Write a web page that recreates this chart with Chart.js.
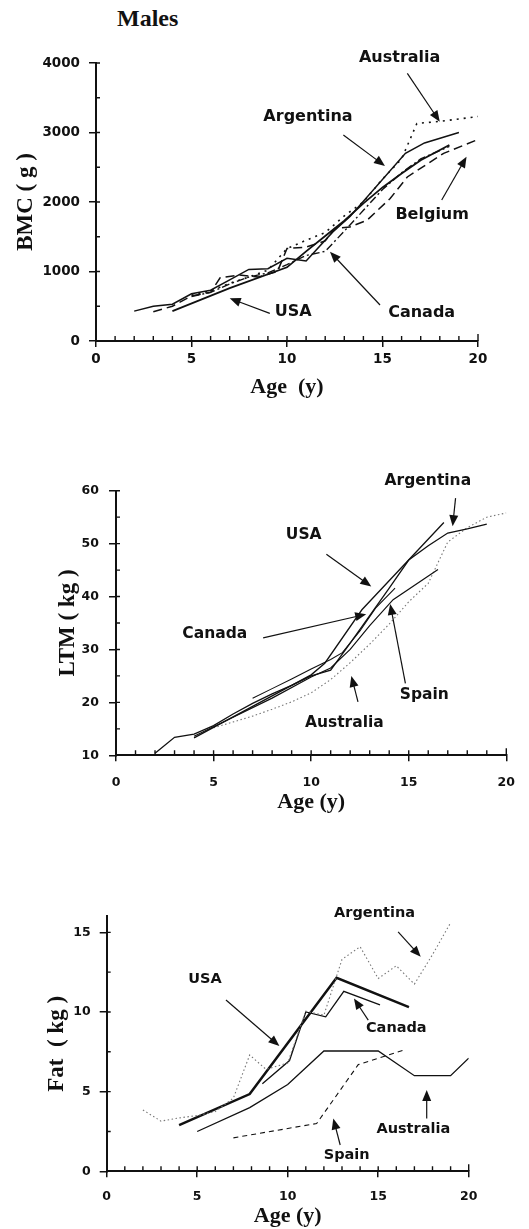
<!DOCTYPE html>
<html>
<head>
<meta charset="utf-8">
<script src="https://cdn.jsdelivr.net/npm/chart.js@4.4.0/dist/chart.umd.min.js"></script>
<style>
html, body { margin: 0; padding: 0; background: #fff; }
body { width: 529px; height: 1229px; position: relative; overflow: hidden; }
canvas { position: absolute; left: 0; }
#males { position: absolute; left: 117px; top: 5px; font: bold 24px "Liberation Serif", serif; color: #111; }
</style>
</head>
<body>
<div id="males">Males</div>
<canvas id="bmc" width="529" height="400" style="top:0"></canvas>
<canvas id="ltm" width="529" height="420" style="top:400px"></canvas>
<canvas id="fat" width="529" height="409" style="top:820px"></canvas>
<script>
// ---- BMC (g) by age ----
const bmcArgAge = [2, 3, 4, 5, 6, 7, 8, 9, 10, 11, 12.4, 13.3, 16.2, 17.2, 19];
const bmcArg    = [430, 500, 530, 680, 730, 880, 1030, 1040, 1190, 1150, 1570, 1790, 2700, 2850, 3000];
const bmcUsaAge = [4, 7, 10, 11, 12, 13, 14, 15, 16, 17, 18.5];
const bmcUsa    = [430, 760, 1060, 1290, 1510, 1730, 1980, 2210, 2410, 2600, 2820];
const bmcCanAge = [5, 6, 7, 8, 9, 10, 11, 12, 13, 14, 15, 16, 17, 18.5];
const bmcCan    = [640, 700, 820, 920, 980, 1100, 1230, 1290, 1580, 1880, 2180, 2420, 2620, 2800];
const bmcAusAge = [5, 6, 7, 8, 9, 10, 11, 12, 13, 14, 15, 16, 16.8, 18, 20];
const bmcAus    = [660, 720, 830, 920, 1020, 1330, 1450, 1560, 1800, 2000, 2330, 2620, 3130, 3160, 3230];
const bmcBelAge = [3, 4, 5, 6, 6.5, 7.5, 8.5, 9.5, 10, 11, 12, 12.5, 13.3, 14.2, 15.4, 16.3, 18.2, 20];
const bmcBel    = [420, 500, 650, 700, 910, 950, 920, 1000, 1330, 1350, 1440, 1620, 1640, 1740, 2050, 2360, 2700, 2900];

// ---- LTM (kg) by age ----
const ltmArgAge = [2, 3, 4, 5, 6, 7, 8, 9, 10, 11, 12, 13, 14, 15, 16, 17, 18, 19];
const ltmArg    = [10.4, 13.4, 14, 15.6, 17.8, 19.8, 21.6, 23.2, 25, 26.1, 31.2, 36.4, 41.6, 46.9, 49.6, 52, 52.8, 53.7];
const ltmUsaAge = [4, 10, 10.7, 12.6, 16.8];
const ltmUsa    = [13.3, 25.2, 27.4, 37.5, 54];
const ltmCanAge = [7, 8, 9, 10, 11, 11.6, 12.5, 13.3, 14.3];
const ltmCan    = [20.8, 22.6, 24.4, 26.3, 28.1, 29.4, 33.5, 37.8, 41.6];
const ltmSpaAge = [4, 6, 8, 10, 11, 12, 13, 14.2, 16.5];
const ltmSpa    = [13.6, 17.2, 20.8, 24.8, 26.5, 30, 34.5, 39.4, 45.1];
const ltmAusAge = [5, 6, 7, 8, 9, 10, 11, 12, 13, 14, 15, 16, 17, 18, 19, 20];
const ltmAus    = [15.2, 16.3, 17.4, 18.7, 20.1, 21.8, 24.3, 27.5, 31, 34.8, 39, 42.5, 50.3, 53, 55, 55.8];

// ---- Fat (kg) by age ----
const fatArgAge = [2, 3, 4, 5, 6, 7, 7.9, 8.8, 10, 11, 12, 13, 14, 15, 16, 17, 18, 19];
const fatArg    = [3.85, 3.15, 3.35, 3.5, 3.75, 4.6, 7.3, 6.4, 6.8, 10.05, 9.8, 13.3, 14.1, 12.1, 12.9, 11.75, 13.6, 15.6];
const fatUsaAge = [4, 7.9, 12.7, 16.7];
const fatUsa    = [2.9, 4.85, 12.15, 10.3];
const fatCanAge = [8.6, 10.1, 11, 12.1, 13.1, 15.1];
const fatCan    = [5.5, 6.95, 10, 9.7, 11.3, 10.45];
const fatAusAge = [5, 7.9, 10, 12, 15, 17, 19, 20];
const fatAus    = [2.5, 4.0, 5.45, 7.55, 7.55, 6.0, 6.0, 7.1];
const fatSpaAge = [7, 11.6, 13.9, 16.4];
const fatSpa    = [2.1, 3.0, 6.7, 7.6];

// country labels with arrows (data coordinates)
const bmcNotes = [
  { text: 'Australia', at: [15.9, 4070], from: [16.3, 3850], to: [18.0, 3155] },
  { text: 'Argentina', at: [11.1, 3227], from: [12.95, 2964], to: [15.13, 2518] },
  { text: 'Belgium', at: [17.6, 1813], from: [18.1, 2029], to: [19.4, 2652] },
  { text: 'Canada', at: [17.05, 399], from: [14.87, 518], to: [12.25, 1285] },
  { text: 'USA', at: [10.33, 422], from: [9.1, 398], to: [7.0, 614] }
];
const ltmNotes = [
  { text: 'Argentina', at: [15.98, 61.85], from: [17.4, 58.6], to: [17.25, 53.3] },
  { text: 'USA', at: [9.62, 51.6], from: [10.78, 48.0], to: [13.08, 41.9] },
  { text: 'Canada', at: [5.06, 32.9], from: [7.54, 32.2], to: [12.82, 36.65] },
  { text: 'Spain', at: [15.8, 21.4], from: [14.83, 23.6], to: [14.05, 38.6] },
  { text: 'Australia', at: [11.7, 16.2], from: [12.4, 20.1], to: [12.06, 25.0] }
];
const fatNotes = [
  { text: 'Argentina', at: [14.8, 16.2], from: [16.1, 15.03], to: [17.35, 13.46] },
  { text: 'USA', at: [5.43, 12.05], from: [6.59, 10.75], to: [9.54, 7.86] },
  { text: 'Canada', at: [16.0, 8.97], from: [14.45, 9.49], to: [13.66, 10.85] },
  { text: 'Australia', at: [16.94, 2.63], from: [17.68, 3.32], to: [17.68, 5.1] },
  { text: 'Spain', at: [13.26, 1.02], from: [12.9, 1.65], to: [12.52, 3.32] }
];

const INK = '#111';
const GREY = '#777';

function pts(xs, ys) {
  return xs.map((x, i) => ({ x: x, y: ys[i] }));
}

function line(label, xs, ys, width, dash, color) {
  return {
    label: label,
    data: pts(xs, ys),
    borderColor: color || INK,
    borderWidth: width,
    borderDash: dash || [],
    pointRadius: 0,
    tension: 0,
    fill: false
  };
}

// short inward ticks: every year on x, half steps on y
const minorTicks = {
  id: 'minorTicks',
  afterDraw(chart, args, opts) {
    const { ctx, chartArea: a, scales: { x, y } } = chart;
    ctx.save();
    ctx.strokeStyle = INK;
    ctx.lineWidth = 1.4;
    ctx.beginPath();
    for (let v = x.min; v <= x.max; v += 1) {
      const px = x.getPixelForValue(v);
      ctx.moveTo(px, a.bottom);
      ctx.lineTo(px, a.bottom - (v === x.max ? 7 : 5));
    }
    for (let v = y.min; v <= y.max + 1e-9; v += opts.yMinor) {
      const py = y.getPixelForValue(v);
      ctx.moveTo(a.left, py);
      ctx.lineTo(a.left + 4, py);
    }
    ctx.stroke();
    ctx.restore();
  }
};

const notes = {
  id: 'notes',
  afterDatasetsDraw(chart, args, opts) {
    const { ctx, scales: { x, y } } = chart;
    ctx.save();
    ctx.fillStyle = INK;
    ctx.strokeStyle = INK;
    ctx.font = 'bold ' + opts.size + 'px "DejaVu Sans", sans-serif';
    ctx.textAlign = 'center';
    ctx.textBaseline = 'middle';
    opts.items.forEach(n => {
      ctx.fillText(n.text, x.getPixelForValue(n.at[0]), y.getPixelForValue(n.at[1]));
      const x0 = x.getPixelForValue(n.from[0]), y0 = y.getPixelForValue(n.from[1]);
      const x1 = x.getPixelForValue(n.to[0]), y1 = y.getPixelForValue(n.to[1]);
      const ang = Math.atan2(y1 - y0, x1 - x0);
      const L = 11, W = 4.5;
      ctx.lineWidth = 1.2;
      ctx.beginPath();
      ctx.moveTo(x0, y0);
      ctx.lineTo(x1 - (L - 2) * Math.cos(ang), y1 - (L - 2) * Math.sin(ang));
      ctx.stroke();
      ctx.beginPath();
      ctx.moveTo(x1, y1);
      ctx.lineTo(x1 - L * Math.cos(ang) + W * Math.sin(ang), y1 - L * Math.sin(ang) - W * Math.cos(ang));
      ctx.lineTo(x1 - L * Math.cos(ang) - W * Math.sin(ang), y1 - L * Math.sin(ang) + W * Math.cos(ang));
      ctx.closePath();
      ctx.fill();
    });
    ctx.restore();
  }
};

function makeChart(id, p) {
  const H = document.getElementById(id).height;
  return new Chart(document.getElementById(id), {
    type: 'line',
    data: { datasets: p.datasets },
    plugins: [minorTicks, notes],
    options: {
      responsive: false,
      animation: false,
      devicePixelRatio: 1,
      layout: { padding: { left: 0, top: p.area.top, right: 529 - p.area.right, bottom: 0 } },
      plugins: {
        legend: { display: false },
        tooltip: { enabled: false },
        minorTicks: { yMinor: p.yMinor },
        notes: { items: p.notes, size: p.noteSize }
      },
      scales: {
        x: {
          type: 'linear', min: 0, max: 20,
          afterFit: s => { s.height = H - p.area.bottom; },
          border: { color: INK, width: 2 },
          grid: { drawOnChartArea: false, tickLength: 6, color: INK, lineWidth: 1.5 },
          ticks: {
            stepSize: 5, maxRotation: 0, color: INK, padding: p.xPad, includeBounds: false,
            callback: v => String(v),
            font: { family: '"DejaVu Sans"', weight: 'bold', size: p.tickSize }
          },
          title: {
            display: true, text: p.xTitle, color: INK,
            padding: { top: 0, bottom: p.xTitlePad },
            font: { family: '"Liberation Serif"', weight: 'bold', size: 22, lineHeight: 1 }
          }
        },
        y: {
          type: 'linear', min: p.yMin, max: p.yMax,
          afterFit: s => { s.width = p.area.left; },
          border: { color: INK, width: 2 },
          grid: { drawOnChartArea: false, tickLength: 7, color: INK, lineWidth: 1.5 },
          ticks: {
            stepSize: p.yStep, color: INK, padding: p.yPad, includeBounds: false,
            callback: v => String(v),
            font: { family: '"DejaVu Sans"', weight: 'bold', size: p.tickSize }
          },
          title: {
            display: true, text: p.yTitle, color: INK,
            padding: { top: p.yTitlePad, bottom: 0 },
            font: { family: '"Liberation Serif"', weight: 'bold', size: 23, lineHeight: 1 }
          }
        }
      }
    }
  });
}

makeChart('bmc', {
  area: { left: 96, right: 478, top: 63, bottom: 341 },
  yMin: 0, yMax: 4000, yStep: 1000, yMinor: 500,
  tickSize: 13.5, xPad: 4, yPad: 9,
  xTitle: 'Age  (y)', xTitlePad: 2,
  yTitle: 'BMC ( g )', yTitlePad: 14.5,
  noteSize: 16, notes: bmcNotes,
  datasets: [
    line('Argentina', bmcArgAge, bmcArg, 1.5),
    line('USA', bmcUsaAge, bmcUsa, 1.8),
    line('Canada', bmcCanAge, bmcCan, 1.4, [8, 3, 2, 3]),
    line('Australia', bmcAusAge, bmcAus, 1.6, [2, 5]),
    line('Belgium', bmcBelAge, bmcBel, 1.5, [9, 5])
  ]
});

makeChart('ltm', {
  area: { left: 116, right: 506.7, top: 90.7, bottom: 355.3 },
  yMin: 10, yMax: 60, yStep: 10, yMinor: 5,
  tickSize: 12.5, xPad: 14, yPad: 10,
  xTitle: 'Age (y)', xTitlePad: 7,
  yTitle: 'LTM ( kg )', yTitlePad: 56.5,
  noteSize: 15.5, notes: ltmNotes,
  datasets: [
    line('Argentina', ltmArgAge, ltmArg, 1.3),
    line('USA', ltmUsaAge, ltmUsa, 1.3),
    line('Canada', ltmCanAge, ltmCan, 1.1),
    line('Spain', ltmSpaAge, ltmSpa, 1.2),
    line('Australia', ltmAusAge, ltmAus, 1.1, [1.5, 2.5], GREY)
  ]
});

makeChart('fat', {
  area: { left: 106.7, right: 468.7, top: 96.4, bottom: 351.3 },
  yMin: 0, yMax: 16, yStep: 5, yMinor: 2.5,
  tickSize: 12.5, xPad: 12, yPad: 9,
  xTitle: 'Age (y)', xTitlePad: 1.3,
  yTitle: 'Fat  ( kg )', yTitlePad: 45.5,
  noteSize: 14.5, notes: fatNotes,
  datasets: [
    line('Argentina', fatArgAge, fatArg, 1.1, [1.5, 2.5], GREY),
    line('USA', fatUsaAge, fatUsa, 2.5),
    line('Canada', fatCanAge, fatCan, 1.3),
    line('Australia', fatAusAge, fatAus, 1.3),
    line('Spain', fatSpaAge, fatSpa, 1.1, [5, 4])
  ]
});
</script>
</body>
</html>
